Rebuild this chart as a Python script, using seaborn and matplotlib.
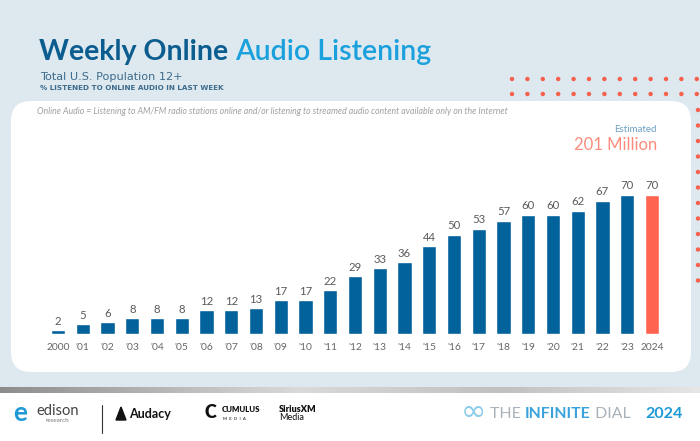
import matplotlib
matplotlib.use("Agg")
import matplotlib.pyplot as plt
import seaborn as sns
import numpy as np
import pandas as pd
from matplotlib.patches import FancyBboxPatch, Circle, Polygon

# ---- data ----
year_labels = ["2000", "'01", "'02", "'03", "'04", "'05", "'06", "'07", "'08", "'09",
               "'10", "'11", "'12", "'13", "'14", "'15", "'16", "'17", "'18", "'19",
               "'20", "'21", "'22", "'23", "2024"]
values = [2, 5, 6, 8, 8, 8, 12, 12, 13, 17, 17, 22, 29, 33, 36, 44, 50, 53, 57, 60,
          60, 62, 67, 70, 70]
title_a = "Weekly Online "
title_b = "Audio Listening"
subtitle1 = "Total U.S. Population 12+"
subtitle2 = "% LISTENED TO ONLINE AUDIO IN LAST WEEK"
note = "Online Audio = Listening to AM/FM radio stations online and/or listening to streamed audio content available only on the Internet"
est_label = "Estimated"
est_value = "201 Million"

BLUE = "#02629b"
CORAL = "#fe6450"
BG = "#dde8ef"

sns.set_theme(style="white")
plt.rcParams['font.family'] = ['Lato', 'DejaVu Sans']

W, H = 700, 441
fig = plt.figure(figsize=(7, 4.41), dpi=100)
fig.patch.set_facecolor(BG)

bg = fig.add_axes([0, 0, 1, 1], zorder=0)
bg.set_xlim(0, W)
bg.set_ylim(H, 0)
bg.axis("off")
bg.set_facecolor("none")

# card
card = FancyBboxPatch((11, 101), 680, 271, boxstyle="round,pad=0,rounding_size=20",
                      facecolor="white", edgecolor="none", zorder=1)
bg.add_patch(card)

# dots
for row_y in (79, 94):
    for i in range(13):
        bg.add_patch(Circle((512 + i * 15.4, row_y), 1.5, color="#f7604c", zorder=2))
for j in range(12):
    bg.add_patch(Circle((698, 110 + j * 15.5), 1.5, color="#f7604c", zorder=2))

# footer
bg.add_patch(plt.Rectangle((0, 393), W, 48, facecolor="white", edgecolor="none", zorder=1))
grad = np.concatenate([np.linspace(0.55, 0.85, 300), np.linspace(0.85, 0.75, 200),
                       np.linspace(0.75, 0.9, 200)])
bg.imshow(grad[np.newaxis, :], cmap="gray", vmin=0, vmax=1, aspect="auto",
          extent=[0, W, 393, 387], zorder=2)
bg.set_xlim(0, W)
bg.set_ylim(H, 0)

fig.canvas.draw()
renderer = fig.canvas.get_renderer()


def fit_text(x, y, s, width, size, **kw):
    t = bg.text(x, y, s, fontsize=size, **kw)
    w = t.get_window_extent(renderer).width
    t.set_fontsize(size * width / w)
    return t


# titles
title_fs = 18.5
t1 = bg.text(39, 52, title_a, fontsize=title_fs, fontweight="bold", color="#0b5d8f",
             va="center", ha="left", zorder=3)
t2 = bg.text(0, 52, title_b, fontsize=title_fs, fontweight="semibold", color="#1aa0dc",
             va="center", ha="left", zorder=3)
wtot = t1.get_window_extent(renderer).width + t2.get_window_extent(renderer).width
title_fs = title_fs * 394 / wtot
t1.set_fontsize(title_fs)
t2.set_fontsize(title_fs)
t2.set_x(t1.get_window_extent(renderer).x1)

fit_text(40, 77, subtitle1, 143, 7.3, color="#3d6b8c", va="center", ha="left", zorder=3,
         family=["DejaVu Sans"])
fit_text(40, 88, subtitle2, 185, 4.9, fontweight="bold", color="#3d6b8c",
         va="center", ha="left", zorder=3, family=["DejaVu Sans"])
fit_text(37, 112, note, 473, 5.6, style="italic", color="#a0a0a0",
         va="center", ha="left", zorder=3)
bg.text(657, 130, est_label, fontsize=7, color="#6d9fc4", va="center", ha="right", zorder=3)
bg.text(657, 145, est_value, fontsize=12, color="#fb8c7c", va="center", ha="right", zorder=3)

# footer logos (approximate, as text)
bg.text(13, 413, "e", fontsize=19, fontweight="bold", color="#1f9ad6", va="center", ha="left", zorder=3)
bg.text(36, 411, "edison", fontsize=10.5, color="#444444", va="center", ha="left", zorder=3)
bg.text(45, 421, "research", fontsize=4.5, color="#777777", va="center", ha="left", zorder=3)
bg.plot([102, 102], [405, 433], color="#333333", lw=0.8, zorder=3)
bg.add_patch(Polygon([[116, 420], [121, 407], [126, 420]], closed=True, color="#111111", zorder=3))
bg.text(129, 414, "Audacy", fontsize=9, fontweight="bold", color="#111111", va="center", ha="left", zorder=3)
bg.text(210, 413, "C", fontsize=13, fontweight="heavy", color="#111111", va="center", ha="center", zorder=3)
bg.text(222, 410, "CUMULUS", fontsize=5.6, fontweight="heavy", color="#111111", va="center", ha="left", zorder=3)
bg.text(223, 419, "M  E  D  I  A", fontsize=3.2, color="#111111", va="center", ha="left", zorder=3)
bg.text(279, 409, "SiriusXM", fontsize=6.5, fontweight="heavy", color="#111111", va="center", ha="left", zorder=3)
bg.text(279, 418, "Media", fontsize=6.5, color="#111111", va="center", ha="left", zorder=3)
bg.text(473, 412, "∞", fontsize=22, color="#8ccbe9", va="center", ha="center", zorder=3,
        family=["DejaVu Sans"])
ffs = 11.4
ta = bg.text(490, 414, "THE ", fontsize=ffs, color="#a9b2ba", va="center", ha="left", zorder=3)
x = ta.get_window_extent(renderer).x1
tb = bg.text(x, 414, "INFINITE", fontsize=ffs, fontweight="bold", color="#3aa3dc", va="center", ha="left", zorder=3)
x = tb.get_window_extent(renderer).x1
tc = bg.text(x, 414, " DIAL", fontsize=ffs, color="#a9b2ba", va="center", ha="left", zorder=3)
bg.text(683, 414, "2024", fontsize=11.5, fontweight="bold", color="#1e9ad6", va="center", ha="right", zorder=3)

# ---- bars ----
px_per_unit_x = 24.75
left_px, right_px = 40, 670
x0 = 58
ax_bottom_px, ax_top_px = 334, 160
px_per_val = 1.99
ax = fig.add_axes([left_px / W, (H - ax_bottom_px) / H, (right_px - left_px) / W,
                   (ax_bottom_px - ax_top_px) / H], zorder=4)
ax.set_facecolor("none")
df = pd.DataFrame({"year": year_labels, "value": values})
palette = {lab: (CORAL if lab == "2024" else BLUE) for lab in year_labels}
sns.barplot(data=df, x="year", y="value", hue="year", palette=palette, legend=False,
            width=0.566, saturation=1, ax=ax, order=year_labels)
ax.set_xlim(-(x0 - left_px) / px_per_unit_x, 24 + (right_px - (x0 + 24 * px_per_unit_x)) / px_per_unit_x)
ax.set_ylim(0, (ax_bottom_px - ax_top_px) / px_per_val)
for c in ax.containers:
    ax.bar_label(c, fmt="%g", padding=2.5, fontsize=8.2, color="#5a5a5a")
ax.set_xlabel("")
ax.set_ylabel("")
ax.set_yticks([])
ax.tick_params(axis="x", length=0, pad=6.5, labelsize=7.4, labelcolor="#666666")
for s in ax.spines.values():
    s.set_visible(False)

fig.savefig("out.png", dpi=100, facecolor=fig.get_facecolor())
